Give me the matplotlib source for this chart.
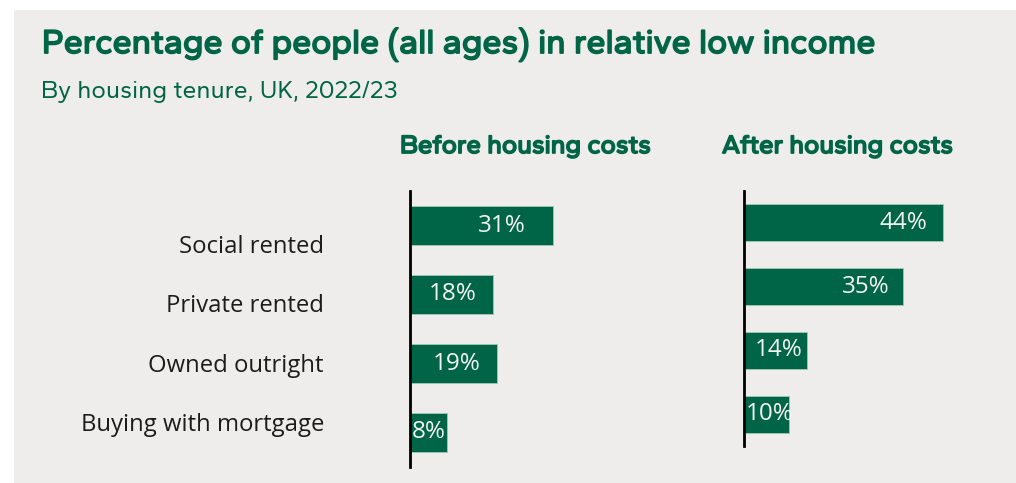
import matplotlib.pyplot as plt
from matplotlib.patches import Rectangle
import matplotlib.patheffects as pe

# Datos: porcentaje de personas en bajos ingresos relativos por tenencia de vivienda
categorias = ["Social rented", "Private rented", "Owned outright", "Buying with mortgage"]
antes_costos = [31, 18, 19, 8]
despues_costos = [44, 35, 14, 10]
paneles = ["Before housing costs", "After housing costs"]

VERDE = "#006446"
FONDO = "#EEEDEB"
TITULO = ["Gantari", "DejaVu Sans"]
W, H = 1016, 483
# Gantari solo trae peso regular: se engruesa con un trazo del mismo color
NEGRITA = [pe.withStroke(linewidth=1.3, foreground=VERDE)]


def px(x, y):
    """Convierte pixeles (desde arriba a la izquierda) a coordenadas de figura."""
    return x / W, 1 - y / H


def dibujar_panel(fig, izq, arriba, alto, escala, valores, alto_barra, factor_texto):
    ancho = 50 * escala
    ax = fig.add_axes([izq / W, 1 - (arriba + alto) / H, ancho / W, alto / H])
    ax.set_facecolor("none")
    pos = range(len(valores))
    ax.barh(pos, valores, height=alto_barra, color=VERDE, edgecolor="#9fc9b8", linewidth=0.6)
    for i, v in zip(pos, valores):
        if v < 12:
            # barras cortas: etiqueta pegada al eje
            ax.annotate(f"{v}%", (0, i), xytext=(1.5, 0), textcoords="offset points",
                        ha="left", va="center", color="#f4f4f2", fontsize=17.5, family="Open Sans")
        else:
            ax.text(v * factor_texto, i, f"{v}%", ha="right", va="center", color="#f4f4f2",
                    fontsize=17.5, family="Open Sans")
    ax.set_xlim(0, 50)
    ax.set_ylim(len(valores) - 0.5, -0.5)
    for lado in ["top", "right", "bottom"]:
        ax.spines[lado].set_visible(False)
    ax.spines["left"].set_linewidth(2)
    ax.spines["left"].set_color("black")
    ax.set_xticks([])
    ax.set_yticks([])
    return ax


fig = plt.figure(figsize=(W / 100, H / 100), dpi=100)
fig.patch.set_facecolor("white")
fig.add_artist(Rectangle(px(14, 483), (W - 14) / W, (483 - 10) / H, transform=fig.transFigure,
                         facecolor=FONDO, edgecolor="none", zorder=-10))

fig.text(*px(42, 53), "Percentage of people (all ages) in relative low income", color=VERDE,
         fontsize=24.5, family=TITULO, va="baseline", path_effects=NEGRITA)
fig.text(*px(41, 98), "By housing tenure, UK, 2022/23", color=VERDE,
         fontsize=17.8, family=TITULO, va="baseline")

fig.text(*px(400, 153), paneles[0], color=VERDE, fontsize=18.6,
         family=TITULO, va="baseline", path_effects=NEGRITA)
fig.text(*px(722, 153), paneles[1], color=VERDE, fontsize=18.6,
         family=TITULO, va="baseline", path_effects=NEGRITA)

# Etiquetas de categorias a la izquierda
for i, cat in enumerate(categorias):
    fig.text(*px(324, 253 + i * 59.3), cat, ha="right", va="baseline", color="#1c1c1c",
             fontsize=17.2, family="Open Sans")

dibujar_panel(fig, 410, 191, 276, 4.6, antes_costos, 0.565, 0.81)
dibujar_panel(fig, 744, 191, 255, 4.53, despues_costos, 0.578, 0.92)

plt.savefig("out.png", dpi=100, facecolor=fig.get_facecolor())
